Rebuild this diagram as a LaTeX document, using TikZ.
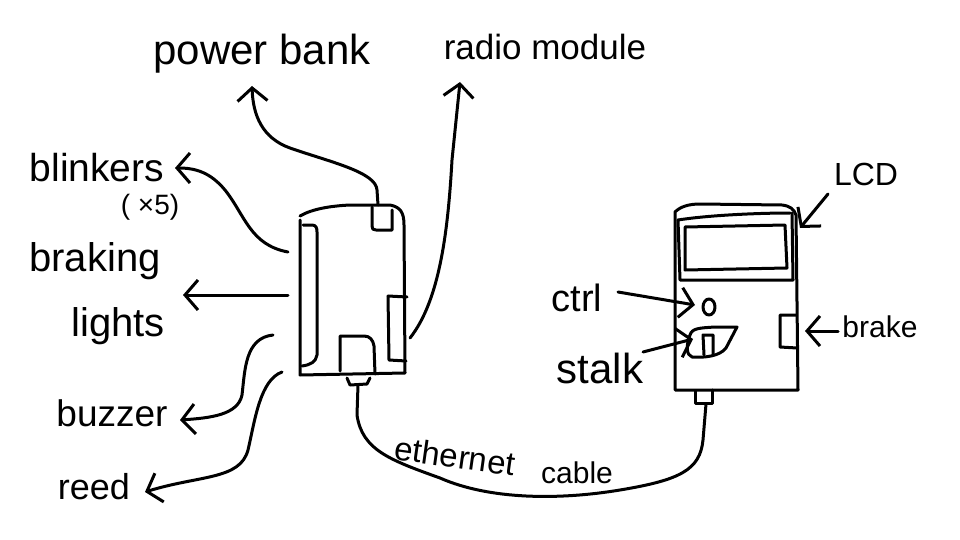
\documentclass[tikz,border=0pt]{standalone}
\usepackage{fontspec}
\setmainfont{Liberation Sans}
\usetikzlibrary{arrows.meta}
\tikzset{
  ink/.style={line width=3pt, line cap=round, line join=round},
  arr/.style={ink, -{Straight Barb[length=13pt,width=30pt]}},
  lbl/.style={font=\fontsize{#1}{#1}\selectfont, inner sep=0pt},
}
\begin{document}
\begin{tikzpicture}[x=1pt,y=-1pt]
\useasboundingbox (0,0) rectangle (960,540);

% ---------- controller box (left) ----------
\draw[ink] (300,216) .. controls (312,209) and (330,206) .. (350,205) -- (390,205)
  .. controls (400,207) and (404,212) .. (404,225) -- (405,373) -- (300,375) -- (300,220);
% left strip
\draw[ink] (303,225) -- (312,225) .. controls (316,225) and (317,228) .. (317,232)
  -- (317,355) .. controls (316,362) and (310,365) .. (302,366);
% top-right square (power socket)
\draw[ink] (372,207) -- (372,226) .. controls (372,229) and (373,230) .. (376,230) -- (392,230) -- (392,210);
% right strip (radio)
\draw[ink] (388,296) -- (407,297);
\draw[ink] (388,296) -- (389,360) -- (406,361);
% bottom middle socket
\draw[ink] (340,371) -- (340,336) -- (364,336) .. controls (370,336) and (373,340) .. (374,346) -- (375,374);
% bottom connector
\draw[ink] (347,378) -- (350,385) -- (367,384) -- (370,378);
\coordinate (pwr) at (378,205);
\coordinate (rad) at (410,338);
\coordinate (cbl) at (358,385);
\coordinate (oBl) at (288,252);
\coordinate (oBr) at (288,295);
\coordinate (oBz) at (273,335);
\coordinate (oRe) at (282,372);

% ---------- display unit (right) ----------
\draw[ink] (675,390) -- (675,212) .. controls (680,207) and (688,204) .. (700,204)
  -- (782,205) .. controls (790,206) and (794,209) .. (796,215) -- (798,390) -- (675,390);
% LCD frame and screen
\draw[ink] (678,220) -- (680,280) -- (793,280) -- (792,213);
\draw[ink] (678,220) .. controls (710,215) and (760,213) .. (790,213);
\draw[ink] (685,227) -- (785,225) -- (787,268) -- (685,270) -- cycle;
% ctrl button
\draw[ink] (709,307) ellipse [x radius=6, y radius=8];
% stalk
\draw[ink] (690,335) .. controls (692,328) and (700,328) .. (715,327) -- (737,327)
  -- (726,348) .. controls (720,356) and (705,358) .. (692,357) .. controls (686,355) and (686,345) .. (690,335) -- cycle;
\draw[ink] (704,355) -- (703,335) -- (713,335) -- (713,355);
% brake button
\draw[ink] (796,315) -- (780,315) -- (780,347) -- (797,348);
% bottom connector
\draw[ink] (695,391) -- (695,403) -- (712,403) -- (712,390);
\coordinate (dcbl) at (706,404);
\coordinate (lcdT) at (800,228);
\coordinate (ctrlT) at (695,305);
\coordinate (stalkT) at (693,339);
\coordinate (brkT) at (805,331);

% ---------- labels ----------
\node[lbl=42] (pb) at (262,54) {power bank};
\node[lbl=35] (rm) at (545,47) {radio module};
\node[lbl=39] (bl) at (97,168) {blinkers};
\node[lbl=28] (x5) at (150,207) {( ×5)};
\node[lbl=40] (brk) at (95,261) {braking};
\node[lbl=40] (lt) at (118,326) {lights};
\node[lbl=37] (bz) at (112,413) {buzzer};
\node[lbl=36] (rd) at (94,487) {reed};
\node[lbl=32] (lcd) at (866,174) {LCD};
\node[lbl=38] (ctrl) at (577,298) {ctrl};
\node[lbl=42] (stalk) at (600,368) {stalk};
\node[lbl=30] (brake) at (880,327) {brake};
\node[lbl=33, rotate=-8] (eth) at (455,456) {ethernet};
\node[lbl=30] (cab) at (577,473) {cable};

\coordinate (pbT) at (252,86);
\coordinate (rmT) at (460,82);
\coordinate (blT) at (175,168);
\coordinate (brT) at (183,295);
\coordinate (bzT) at (180,420);
\coordinate (rdT) at (145,492);
\coordinate (lcdS) at (828,194);
\coordinate (ctrlS) at (618,292);
\coordinate (stalkS) at (643,352);
\coordinate (brkS) at (838,331);

% ---------- connectors ----------
\draw[arr] (pwr) -- (377,190) .. controls (376,172) and (330,162) .. (290,148)
  .. controls (262,138) and (253,115) .. (pbT);
\draw[arr] (rad) .. controls (440,300) and (448,230) .. (452,160) -- (rmT);
\draw[arr] (oBl) .. controls (250,245) and (245,215) .. (225,190)
  .. controls (210,172) and (195,168) .. (blT);
\draw[arr] (oBr) -- (brT);
\draw[arr] (oBz) .. controls (245,338) and (245,370) .. (242,395)
  .. controls (238,415) and (210,418) .. (bzT);
\draw[arr] (oRe) .. controls (260,380) and (255,420) .. (248,450)
  .. controls (240,480) and (200,475) .. (rdT);
\draw[arr] (lcdS) -- (lcdT);
\draw[arr] (ctrlS) -- (ctrlT);
\draw[arr] (stalkS) -- (stalkT);
\draw[arr] (brkS) -- (brkT);
\draw[ink] (cbl) -- (357,415) .. controls (362,450) and (390,460) .. (440,478)
  .. controls (490,500) and (560,500) .. (620,490)
  .. controls (680,480) and (700,470) .. (703,440) -- (dcbl);
\end{tikzpicture}
\end{document}
